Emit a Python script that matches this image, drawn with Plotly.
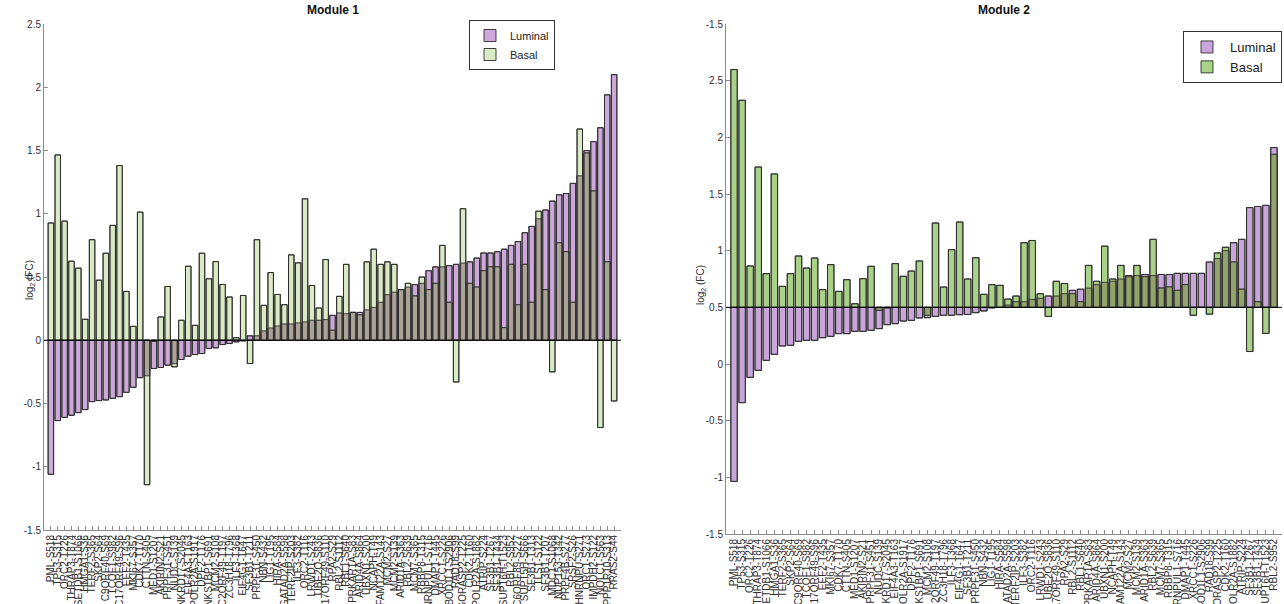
import plotly.graph_objects as go

labels_common = ["PML-S518", "TP53-S315", "ORC2-T226", "THRAP3-T874", "SETDB1-S1066", "HMGA1-S36",
    "TERF2-S365", "SKP2-S64", "C9ORF40-S69", "TCOF1-S982", "C17ORF49-S96", "EEF2-T435",
    "MKI67-S357", "CDK7-T170", "CTTN-S405", "MED1-S1207", "AKIRIN2-S21", "PRPF31-S451",
    "NUDC-S139", "ANKRD17-S2045", "EIF4A3-T163", "POLR2A-S1917", "DPF2-T176", "TNKS1BP1-S691",
    "MCM2-S108", "C2ORF49-T197", "ZC3H18-T796", "ILF3-T368", "EIF4G1-T647", "SF3B1-T211",
    "PRPF31-S450", "NBN-S432", "LIG1-T195", "HIRA-S584", "GATAD2A-S598", "TERF2IP-S203",
    "ILF3-S382", "ORC2-T116", "LRWD1-S243", "UBE2O-S836", "C17ORF49-S110", "RPA2-S29",
    "RBL2-S1112", "RBL1-S640", "PRKAR1A-S83", "ARID4A-S864", "UBXN1-S200", "NCAPH-T49",
    "FAM122A-S143", "MCM2-S27", "MCM2-S139", "ARID1A-S363", "RBL2-S639", "MCM7-S365",
    "RBBP8-T315", "HNRNPUL1-S716", "DMAP1-T445", "XRCC1-S226", "BOD1L1-S2906", "RAD18-S99",
    "GORASP2-T225", "CDK2-T160", "POLR2A-S1882", "ATRIP-S224", "SF3B1-T267", "SF3B1-T434",
    "SUPT6H-T1523", "RBL2-S952"]
labels_extra_m1 = ["C6ORF89-S227", "SUPT5H-S666", "SF3B1-T313", "TLS1-S122", "SF3B1-T207",
    "MDC1-S1068", "NUP153-T342", "PRPF4B-S277", "SRSF2-S26", "HNRNPU-S271", "ORC1-S273",
    "IMPDH2-S122", "NOLC1-S563", "PPP1R10-S313", "RRAS2-S44"]
labels_m1 = labels_common + labels_extra_m1
labels_m2 = labels_common

m1_luminal = [-1.06, -0.635, -0.61, -0.593, -0.572, -0.548, -0.485, -0.477, -0.472, -0.459,
    -0.446, -0.412, -0.372, -0.296, -0.281, -0.223, -0.215, -0.197, -0.185, -0.152,
    -0.126, -0.113, -0.105, -0.065, -0.06, -0.034, -0.026, -0.013, -0.005, 0.035,
    0.035, 0.074, 0.097, 0.113, 0.129, 0.129, 0.137, 0.145, 0.158, 0.158,
    0.163, 0.197, 0.216, 0.21, 0.22, 0.22, 0.24, 0.26, 0.3, 0.36,
    0.38, 0.4, 0.42, 0.44, 0.45, 0.55, 0.58, 0.58, 0.59, 0.6,
    0.61, 0.62, 0.65, 0.69, 0.69, 0.7, 0.72, 0.75, 0.78, 0.85,
    0.9, 0.96, 1.03, 1.1, 1.15, 1.16, 1.24, 1.3, 1.5, 1.57,
    1.68, 1.94, 2.1]
m1_basal = [0.927, 1.465, 0.942, 0.625, 0.57, 0.166, 0.795, 0.475, 0.688, 0.908,
    1.381, 0.386, 0.11, 1.013, -1.142, -0.01, 0.184, 0.425, -0.21, 0.158,
    0.585, 0.118, 0.688, 0.486, 0.622, 0.441, 0.342, 0.02, 0.354, -0.184,
    0.795, 0.276, 0.535, 0.362, 0.281, 0.675, 0.612, 1.118, 0.433, 0.255,
    0.638, 0.079, 0.347, 0.6, 0.22, 0.2, 0.62, 0.72, 0.6, 0.62,
    0.6, 0.4, 0.45, 0.35, 0.5, 0.4, 0.45, 0.75, 0.3, -0.33,
    1.04, 0.45, 0.42, 0.55, 0.58, 0.58, 0.1, 0.6, 0.28, 0.6,
    0.3, 1.02, 0.4, -0.25, 0.77, 0.7, 0.3, 1.67, 1.48, 1.18,
    -0.69, 0.62, -0.48]

m2_luminal = [-1.036, -0.341, -0.118, -0.056, 0.032, 0.085, 0.159, 0.165, 0.2, 0.209,
    0.209, 0.232, 0.244, 0.268, 0.268, 0.288, 0.288, 0.297, 0.312, 0.347,
    0.356, 0.379, 0.385, 0.406, 0.409, 0.42, 0.43, 0.43, 0.435, 0.437,
    0.453, 0.468, 0.495, 0.5, 0.52, 0.55, 0.55, 0.57, 0.58, 0.6,
    0.6, 0.62, 0.65, 0.66, 0.67, 0.7, 0.72, 0.73, 0.75, 0.77,
    0.78, 0.79, 0.78, 0.79, 0.79, 0.8, 0.8, 0.8, 0.8, 0.9,
    0.93, 1.0, 1.07, 1.1, 1.38, 1.39, 1.4, 1.91]
m2_basal = [2.598, 2.327, 0.865, 1.738, 0.797, 1.677, 0.685, 0.797, 0.953, 0.847,
    0.935, 0.656, 0.877, 0.641, 0.744, 0.532, 0.753, 0.862, 0.474, 0.495,
    0.886, 0.774, 0.82, 0.909, 0.43, 1.244, 0.679, 1.009, 1.253, 0.75,
    0.938, 0.615, 0.7, 0.694, 0.573, 0.6, 1.07, 1.09, 0.62, 0.42,
    0.73, 0.71, 0.62, 0.55, 0.87, 0.73, 1.04, 0.75, 0.87, 0.78,
    0.87, 0.77, 1.1, 0.67, 0.68, 0.65, 0.7, 0.43, 0.5, 0.44,
    0.98, 1.03, 0.9, 0.66, 0.11, 0.55, 0.27, 1.85]

M1_BASE = 0.0
M2_BASE = 0.5

W, H = 1284, 604
EDGE = dict(color="rgba(45,45,45,0.9)", width=1)
BW = 0.8

# colours: luminal, basal, and the overlap where both bars cover the same span
M1_COLORS = ((204, 168, 219), (217, 234, 196), (172, 163, 152))
M2_COLORS = ((201, 166, 217), (170, 209, 136), (146, 163, 108))


def rgb(c):
    return "rgb(%d,%d,%d)" % c


def overlap(lum, bas, base):
    ys = []
    for a, b in zip(lum, bas):
        da, db = a - base, b - base
        if da * db > 0:
            ys.append(da if abs(da) < abs(db) else db)
        else:
            ys.append(0.0)
    return ys


def add_module(fig, lum, bas, base, xa, ya, leg, colors):
    c_lum, c_bas, c_ov = colors
    xs = list(range(len(lum)))
    yl = [v - base for v in lum]
    yb = [v - base for v in bas]
    common = dict(x=xs, base=base, width=BW, xaxis=xa, yaxis=ya, legend=leg)
    fig.add_trace(go.Bar(y=yl, name="Luminal", marker=dict(color=rgb(c_lum), line=EDGE), **common))
    fig.add_trace(go.Bar(y=yb, name="Basal", marker=dict(color=rgb(c_bas), line=EDGE), **common))
    fig.add_trace(go.Bar(y=overlap(lum, bas, base), showlegend=False, hoverinfo="skip",
                         marker=dict(color=rgb(c_ov), line=dict(width=0)), **common))
    for yy in (yl, yb):
        fig.add_trace(go.Bar(y=yy, showlegend=False, hoverinfo="skip",
                             marker=dict(color="rgba(0,0,0,0)", line=EDGE), **common))


fig = go.Figure()
add_module(fig, m1_luminal, m1_basal, M1_BASE, "x", "y", "legend", M1_COLORS)
add_module(fig, m2_luminal, m2_basal, M2_BASE, "x2", "y2", "legend2", M2_COLORS)

axis_common = dict(showline=True, linecolor="#8c8c8c", linewidth=1, ticks="inside",
                   ticklen=4, tickcolor="#8c8c8c", showgrid=False, zeroline=False,
                   automargin=False)
xfont = dict(family="Liberation Sans, Arial", size=10, color="#303030")
yfont = dict(family="Liberation Sans, Arial", size=10, color="#303030")

fig.update_layout(
    width=W, height=H, margin=dict(l=0, r=0, t=0, b=0),
    plot_bgcolor="white", paper_bgcolor="white", barmode="overlay",
    font=dict(family="Liberation Sans, Arial", size=10, color="#333"),
    xaxis=dict(domain=[44 / W, 621 / W], range=[-1, len(labels_m1)], anchor="y",
               tickmode="array", tickvals=list(range(len(labels_m1))), ticktext=labels_m1,
               tickangle=-90, tickfont=xfont, **axis_common),
    yaxis=dict(domain=[1 - 530 / H, 1 - 24 / H], range=[-1.5, 2.5], anchor="x",
               tickmode="array", tickvals=[-1.5, -1, -0.5, 0, 0.5, 1, 1.5, 2, 2.5],
               ticktext=["-1.5", "-1", "-0.5", "0", "0.5", "1", "1.5", "2", "2.5"],
               tickfont=yfont, **axis_common),
    xaxis2=dict(domain=[726 / W, 1282 / W], range=[-1, len(labels_m2)], anchor="y2",
                tickmode="array", tickvals=list(range(len(labels_m2))), ticktext=labels_m2,
                tickangle=-90, tickfont=xfont, **axis_common),
    yaxis2=dict(domain=[1 - 534 / H, 1 - 24 / H], range=[-1.5, 3], anchor="x2",
                tickmode="array", tickvals=[-1.5, -1, -0.5, 0, 0.5, 1, 1.5, 2, 2.5, 3],
                ticktext=["-1.5", "-1", "-0.5", "0", "0.5", "1", "1.5", "2", "2.5", "-1.5"],
                tickfont=yfont, **axis_common),
    legend=dict(x=555 / W, y=1 - 20 / H, xanchor="right", yanchor="top",
                bgcolor="white", bordercolor="#333", borderwidth=1,
                font=dict(size=11, color="#222"), tracegroupgap=0, itemwidth=30,
                traceorder="normal"),
    legend2=dict(x=1282 / W, y=1 - 31 / H, xanchor="right", yanchor="top",
                 bgcolor="white", bordercolor="#333", borderwidth=1,
                 font=dict(size=13, color="#222"), tracegroupgap=0, itemwidth=36,
                 traceorder="normal"),
    annotations=[
        dict(text="<b>Module 1</b>", x=0.5, y=1 - 10 / H, xref="x domain", yref="paper",
             yanchor="middle", xanchor="center", showarrow=False,
             font=dict(size=12, color="#111")),
        dict(text="<b>Module 2</b>", x=0.5, y=1 - 10 / H, xref="x2 domain", yref="paper",
             yanchor="middle", xanchor="center", showarrow=False,
             font=dict(size=12, color="#111")),
        dict(text="log<sub>2</sub> (FC)", x=30 / W, y=1 - 280 / H, xref="paper", yref="paper",
             textangle=-90, showarrow=False, font=dict(size=10, color="#303030"),
             xanchor="center", yanchor="middle"),
        dict(text="log<sub>2</sub> (FC)", x=701 / W, y=1 - 285 / H, xref="paper", yref="paper",
             textangle=-90, showarrow=False, font=dict(size=10, color="#303030"),
             xanchor="center", yanchor="middle"),
    ],
    shapes=[
        dict(type="line", xref="x domain", yref="y", x0=0, x1=1, y0=M1_BASE, y1=M1_BASE,
             line=dict(color="black", width=1)),
        dict(type="line", xref="x2 domain", yref="y2", x0=0, x1=1, y0=M2_BASE, y1=M2_BASE,
             line=dict(color="black", width=1)),
    ],
)

fig.write_html("out.html", config={"displayModeBar": False},
               post_script="document.body.style.margin='0';document.body.style.overflow='hidden';")
